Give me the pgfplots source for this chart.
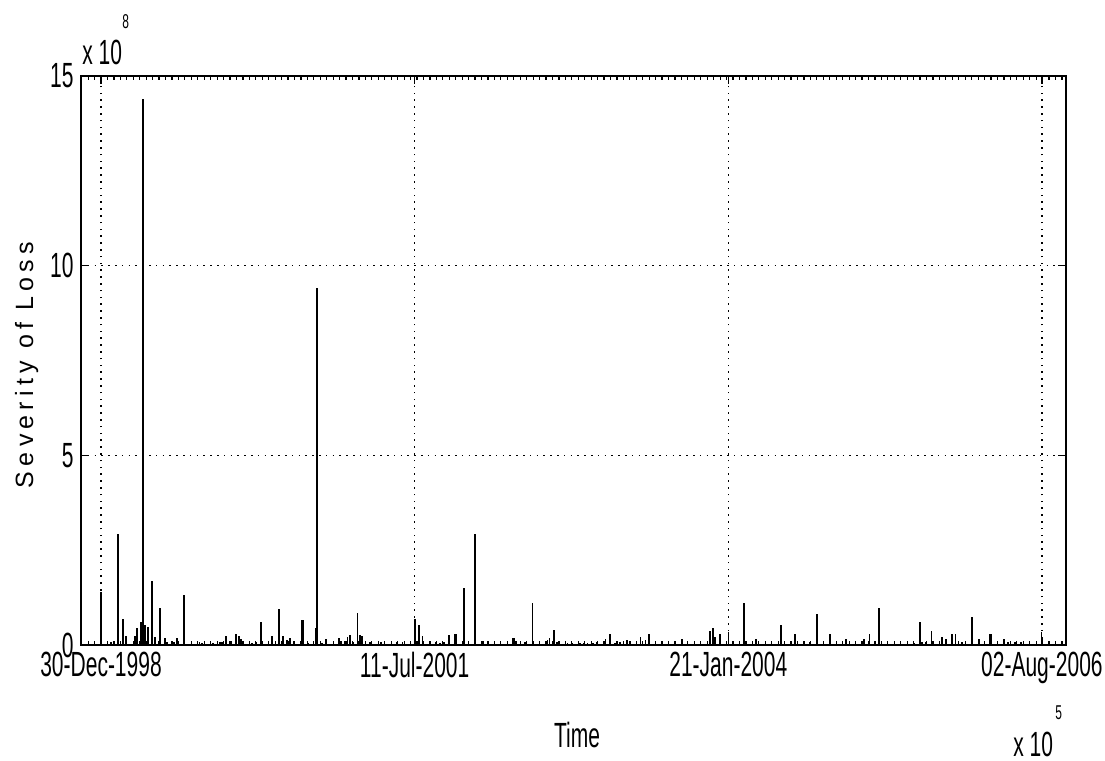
\documentclass[border=0pt]{standalone}
\usepackage{fontspec}
\setmainfont{Liberation Sans}
\newfontfamily\cond{Liberation Sans}[FakeStretch=0.6]
\newfontfamily\spaced{Liberation Sans}[LetterSpace=21]
\usepackage{pgfplots}
\usepackage{pgfplotstable}
\pgfplotsset{compat=1.18}

\pgfplotstableread{
x y
0 1.40
29 0.08
49 2.93
51 2.93
64 0.68
74 0.24
100 0.24
106 0.45
117 0.60
123 14.40
130 0.53
138 0.47
150 1.69
152 1.69
158 0.22
174 0.97
189 0.18
195 0.08
215 0.08
223 0.18
245 1.32
290 0.08
297 0.05
330 0.06
351 0.08
356 0.08
368 0.24
383 0.10
398 0.30
406 0.24
412 0.16
444 0.06
457 0.08
471 0.60
503 0.24
523 0.96
525 0.96
537 0.24
547 0.12
557 0.18
567 0.10
593 0.67
595 0.67
610 0.06
633 0.46
637 9.42
650 0.06
663 0.15
702 0.18
707 0.10
719 0.10
726 0.22
734 0.26
743 0.08
756 0.84
762 0.26
764 0.26
768 0.24
792 0.08
823 0.08
825 0.08
873 0.08
888 0.08
924 0.68
926 0.68
936 0.53
947 0.24
987 0.08
999 0.06
1011 0.08
1026 0.26
1041 0.30
1045 0.30
1069 1.50
1102 2.93
1126 0.10
1214 0.18
1216 0.18
1222 0.10
1236 0.08
1249 0.08
1271 1.12
1315 0.12
1321 0.18
1335 0.40
1343 0.08
1374 0.06
1387 0.06
1411 0.06
1421 0.06
1433 0.06
1449 0.06
1462 0.08
1486 0.15
1500 0.30
1514 0.06
1529 0.08
1549 0.12
1558 0.10
1578 0.08
1589 0.22
1604 0.12
1615 0.30
1712 0.15
1794 0.38
1802 0.46
1809 0.20
1823 0.30
1849 0.35
1894 1.10
1929 0.15
2004 0.53
2044 0.30
2089 0.08
2109 0.82
2148 0.30
2194 0.15
2248 0.15
2264 0.30
2293 0.97
2396 0.06
2413 0.60
2418 0.08
2430 0.08
2447 0.38
2478 0.22
2489 0.15
2507 0.30
2517 0.30
2537 0.08
2567 0.75
2587 0.15
2619 0.30
2622 0.30
2661 0.15
2673 0.08
2693 0.08
2711 0.08
2771 0.35
}\losses

\begin{document}
\begin{tikzpicture}
\useasboundingbox (-40.5bp,-58bp) rectangle (512bp,322.5bp);
\begin{axis}[
  at={(0,0)}, anchor=south west,
  scale only axis, width=492.5bp, height=284.5bp,
  xmin=-59, xmax=2843, ymin=0, ymax=15,
  xtick={0,924,1848,2772},
  xticklabels={30-Dec-1998,11-Jul-2001,21-Jan-2004,02-Aug-2006},
  ytick={0,5,10,15},
  minor xtick={-57,-38,...,2840},
  tick align=inside,
  major tick length=4bp, minor tick length=2bp,
  xmajorgrids, ymajorgrids,
  major grid style={black, line width=0.6bp, dash pattern=on 0.8bp off 2.6bp},
  axis line style={line width=1bp},
  every tick/.style={black, line width=0.6bp},
  ticklabel style={font={\cond\fontsize{17.5bp}{18bp}\selectfont}, inner sep=1bp},
  /pgf/number format/assume math mode=true,
  xticklabel style={yshift=-2.5bp},
  yticklabel style={xshift=-2.5bp},
  clip=false,
]
\addplot[ycomb, black, line width=0.85bp] table[x=x, y=y] {\losses};
\end{axis}
\node[anchor=base west, inner sep=0, font={\cond\fontsize{17.5bp}{18bp}\selectfont}] at (0.5bp,290bp) {x 10};
\node[anchor=base west, inner sep=0, font={\cond\fontsize{10bp}{11bp}\selectfont}] at (20.5bp,308bp) {8};
\node[anchor=base west, inner sep=0, font={\cond\fontsize{17.5bp}{18bp}\selectfont}] at (466bp,-55.5bp) {x 10};
\node[anchor=base west, inner sep=0, font={\cond\fontsize{10bp}{11bp}\selectfont}] at (487bp,-37bp) {5};
\node[anchor=base, inner sep=0, font={\cond\fontsize{17.5bp}{18bp}\selectfont}] at (248bp,-51bp) {Time};
\node[anchor=base, rotate=90, inner sep=0, font={\spaced\fontsize{12.5bp}{13bp}\selectfont}] at (-24bp,140bp) {Severity of Loss};
\end{tikzpicture}
\end{document}
